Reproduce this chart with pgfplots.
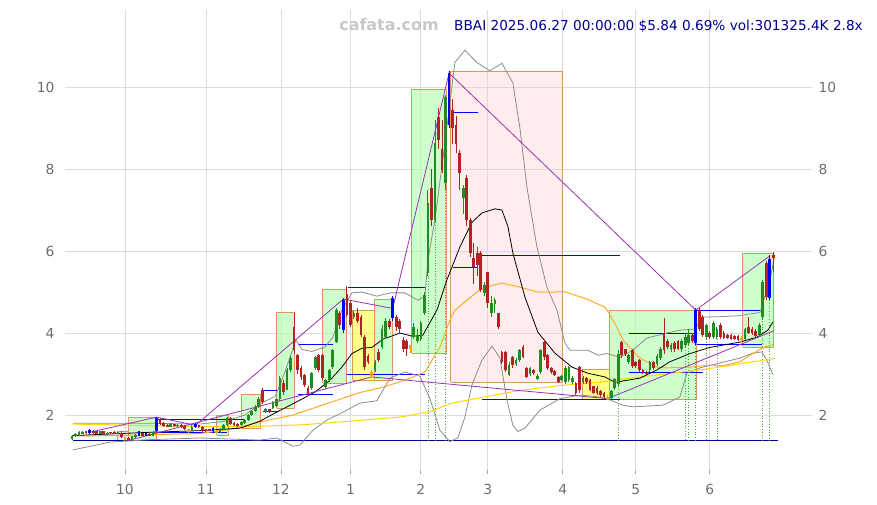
\documentclass[border=0pt]{standalone}
\usepackage{fontspec}
\setmainfont{DejaVu Sans}
\usepackage{pgfplots}
\usepackage{pgfplotstable}
\pgfplotsset{compat=1.18}
\definecolor{cgreen}{RGB}{34,139,34}
\definecolor{cred}{RGB}{178,34,34}
\definecolor{cblue}{RGB}{0,0,255}
\definecolor{corange}{RGB}{255,165,0}
\definecolor{boxedge}{RGB}{222,150,90}
\definecolor{boxgreen}{RGB}{170,255,170}
\definecolor{boxyellow}{RGB}{255,255,40}
\definecolor{boxpink}{RGB}{255,200,200}
\definecolor{mapurple}{RGB}{155,48,180}
\definecolor{navyl}{RGB}{0,0,150}
\definecolor{maorange}{RGB}{255,170,40}
\definecolor{mayellow}{RGB}{255,215,0}
\definecolor{bbgray}{RGB}{140,140,140}
\definecolor{gridgray}{RGB}{220,220,220}
\definecolor{ticklab}{RGB}{110,110,110}
\definecolor{dotgreen}{RGB}{60,170,60}
\definecolor{headnavy}{RGB}{0,0,140}
\definecolor{wmark}{RGB}{200,200,200}

% k: 1 up, 2 down, 3 blue, 4 orange
\pgfplotstableread{
i o h l c k
0 1.42 1.52 1.40 1.50 1
1 1.48 1.57 1.46 1.55 1
2 1.52 1.60 1.50 1.58 1
3 1.55 1.60 1.53 1.58 1
4 1.60 1.62 1.54 1.56 2
5 1.56 1.66 1.55 1.64 3
6 1.62 1.64 1.55 1.56 2
7 1.60 1.62 1.54 1.55 2
8 1.55 1.61 1.54 1.60 1
9 1.60 1.61 1.52 1.53 2
10 1.54 1.58 1.52 1.57 1
11 1.58 1.59 1.55 1.56 2
12 1.58 1.60 1.53 1.55 2
13 1.55 1.58 1.54 1.57 1
14 1.57 1.60 1.44 1.46 2
15 1.46 1.47 1.37 1.40 4
16 1.45 1.46 1.38 1.39 2
17 1.40 1.50 1.39 1.48 1
18 1.46 1.53 1.45 1.52 1
19 1.50 1.61 1.49 1.60 3
20 1.56 1.57 1.49 1.50 2
21 1.50 1.57 1.49 1.56 3
22 1.55 1.56 1.48 1.50 2
23 1.50 1.60 1.49 1.58 1
24 1.60 1.95 1.58 1.93 3
25 1.90 1.92 1.76 1.78 2
26 1.80 1.82 1.72 1.74 2
27 1.76 1.78 1.70 1.72 2
28 1.72 1.80 1.71 1.78 1
29 1.76 1.77 1.72 1.74 2
30 1.73 1.77 1.72 1.76 1
31 1.76 1.78 1.68 1.72 2
32 1.74 1.75 1.64 1.66 2
33 1.65 1.66 1.57 1.60 4
34 1.62 1.75 1.60 1.72 1
35 1.70 1.80 1.68 1.78 3
36 1.75 1.76 1.68 1.70 2
37 1.72 1.74 1.58 1.62 2
38 1.65 1.66 1.58 1.60 2
39 1.64 1.66 1.60 1.62 2
40 1.60 1.70 1.58 1.68 3
41 1.62 1.63 1.55 1.56 4
42 1.58 1.68 1.57 1.66 1
43 1.66 1.78 1.64 1.75 1
44 1.76 1.96 1.74 1.94 1
45 1.94 1.96 1.76 1.78 2
46 1.80 1.82 1.74 1.76 2
47 1.78 1.80 1.72 1.74 2
48 1.76 1.84 1.74 1.82 1
49 1.80 1.90 1.78 1.88 1
50 1.88 2.02 1.86 2.00 1
51 2.00 2.12 1.98 2.10 1
52 2.10 2.24 2.08 2.20 1
53 2.20 2.44 2.18 2.40 1
54 2.62 2.66 2.28 2.32 2
55 2.08 2.18 2.05 2.16 1
56 2.14 2.16 2.05 2.08 2
57 2.17 2.34 2.15 2.32 1
58 2.22 2.42 2.20 2.40 1
59 2.40 2.95 2.35 2.90 1
60 2.78 2.85 2.50 2.56 2
61 2.62 3.15 2.60 3.10 1
62 3.10 3.45 3.05 3.40 1
63 4.15 4.48 3.50 3.58 2
64 3.46 3.50 3.00 3.10 2
65 3.15 3.20 2.85 2.93 2
66 2.98 3.00 2.68 2.73 2
67 2.66 2.70 2.46 2.54 2
68 2.66 3.05 2.60 3.02 1
69 3.15 3.45 3.10 3.41 1
70 3.46 3.50 3.05 3.10 2
71 3.46 3.50 2.85 2.90 2
72 2.68 2.88 2.64 2.85 1
73 2.85 3.12 2.80 3.10 1
74 3.17 3.60 3.12 3.58 1
75 3.78 4.60 3.75 4.56 1
76 4.50 4.55 4.10 4.20 2
77 4.07 4.85 4.00 4.80 3
78 4.95 5.15 4.40 4.45 2
79 4.73 4.80 4.15 4.20 2
80 4.40 4.55 4.35 4.50 1
81 4.50 4.60 4.25 4.30 2
82 4.40 4.45 3.90 3.95 2
83 3.90 3.95 3.10 3.17 2
84 3.45 3.50 3.25 3.30 2
85 3.05 3.10 2.90 2.95 4
86 3.10 3.35 3.05 3.30 1
87 3.55 3.60 3.30 3.35 2
88 3.66 4.20 3.60 4.10 1
89 3.90 4.37 3.85 4.30 1
90 4.30 4.35 4.10 4.15 2
91 4.37 4.90 4.30 4.85 3
92 4.40 4.45 4.05 4.15 2
93 4.30 4.35 4.00 4.10 2
94 3.83 3.90 3.55 3.60 2
95 3.80 3.85 3.45 3.62 2
96 3.70 3.72 3.52 3.60 4
97 3.90 4.25 3.85 4.15 1
98 3.80 4.10 3.75 3.95 1
99 3.85 4.30 3.80 4.24 1
100 4.50 5.00 4.45 4.93 1
101 5.46 7.50 5.40 7.17 1
102 7.54 8.00 6.60 6.76 2
103 6.76 9.20 6.70 8.63 1
104 9.27 9.50 8.50 8.70 2
105 8.50 9.20 7.90 7.98 2
106 7.66 9.80 7.50 9.76 1
107 9.07 10.38 9.00 10.34 3
108 9.44 9.70 8.60 9.00 2
109 9.07 9.30 8.40 8.60 2
110 8.40 8.46 7.50 7.90 2
111 7.30 7.60 6.90 7.54 1
112 7.78 7.85 6.60 6.76 2
113 6.76 6.80 5.85 5.95 2
114 5.83 6.20 5.20 5.60 2
115 5.95 6.10 5.40 5.66 2
116 5.95 6.00 5.00 5.05 2
117 4.97 5.25 4.90 5.17 1
118 5.49 5.50 4.60 4.73 2
119 4.49 4.90 4.40 4.73 1
120 4.70 4.85 4.50 4.80 1
121 4.49 4.50 4.10 4.15 2
122 3.54 3.56 3.25 3.30 2
123 3.54 3.56 3.05 3.10 2
124 2.98 3.30 2.95 3.22 1
125 3.41 3.45 3.15 3.22 2
126 3.25 3.40 3.20 3.35 1
127 3.34 3.60 3.30 3.58 1
128 3.66 3.70 3.38 3.41 2
129 3.15 3.17 2.90 2.93 2
130 3.00 3.18 2.95 3.15 1
131 3.10 3.12 2.98 3.02 2
132 2.88 3.00 2.85 2.95 1
133 3.05 3.60 3.00 3.58 1
134 3.78 3.83 3.35 3.41 2
135 3.46 3.50 3.10 3.15 2
136 3.15 3.18 3.00 3.05 2
137 3.08 3.10 2.95 2.98 2
138 2.93 2.95 2.78 2.80 2
139 2.85 2.98 2.82 2.95 1
140 2.80 3.20 2.75 3.15 1
141 2.85 3.20 2.80 3.17 1
142 2.80 2.95 2.75 2.90 1
143 2.78 2.80 2.50 2.54 2
144 3.17 3.20 2.55 2.60 2
145 2.80 2.95 2.75 2.90 1
146 2.90 2.92 2.75 2.80 2
147 2.85 2.88 2.58 2.60 2
148 2.70 2.72 2.52 2.55 2
149 2.65 2.70 2.50 2.55 2
150 2.58 2.60 2.45 2.50 2
151 2.55 2.57 2.42 2.45 2
152 2.45 2.48 2.36 2.40 4
153 2.42 2.60 2.38 2.58 1
154 2.66 2.90 2.62 2.88 1
155 2.75 3.58 2.70 3.50 1
156 3.78 3.80 3.40 3.46 2
157 3.60 3.62 3.45 3.50 2
158 3.30 3.50 3.25 3.46 1
159 3.58 3.60 3.15 3.20 2
160 3.30 3.32 3.15 3.20 2
161 3.34 3.36 3.05 3.10 2
162 3.10 3.12 3.00 3.05 2
163 3.05 3.07 2.97 3.00 2
164 3.10 3.32 3.05 3.30 1
165 3.30 3.32 3.10 3.15 2
166 3.25 3.48 3.20 3.45 1
167 3.40 3.65 3.35 3.60 1
168 4.00 4.37 3.50 3.58 2
169 3.80 3.85 3.60 3.65 2
170 3.60 3.75 3.55 3.70 1
171 3.75 3.80 3.55 3.60 2
172 3.80 3.82 3.58 3.62 2
173 3.60 3.85 3.55 3.80 1
174 3.70 4.00 3.65 3.90 1
175 3.75 4.10 3.70 3.95 1
176 3.95 4.00 3.75 3.80 2
177 3.75 4.60 3.70 4.56 3
178 4.56 4.60 4.05 4.10 2
179 4.40 4.45 3.90 3.95 2
180 3.90 4.22 3.85 4.20 1
181 4.00 4.05 3.85 3.90 2
182 3.90 4.30 3.85 4.25 1
183 3.90 4.15 3.85 4.10 1
184 4.20 4.25 3.85 3.90 2
185 4.00 4.05 3.85 3.88 2
186 3.95 3.97 3.85 3.88 2
187 3.95 3.97 3.83 3.86 2
188 3.94 3.96 3.82 3.86 2
189 3.92 3.95 3.80 3.84 2
190 3.88 3.92 3.78 3.82 4
191 3.85 4.12 3.82 4.10 1
192 4.15 4.40 3.98 4.00 2
193 4.10 4.15 3.95 4.00 2
194 4.05 4.10 3.88 3.92 2
195 3.95 4.25 3.90 4.20 1
196 4.40 5.30 4.35 5.24 1
197 5.70 5.75 4.80 4.88 2
198 4.85 5.90 4.80 5.80 3
199 5.90 5.98 5.50 5.84 2
}\candles

\pgfplotsset{
  base/.style={at={(65bp,-470bp)}, anchor=south west, scale only axis,
    width=747bp, height=460bp, xmin=-2, xmax=210, ymin=0.66, ymax=11.88,
    axis line style={draw=none}, ytick={2,4,6,8,10},
    /pgf/number format/assume math mode=true,
    ticklabel style={font=\fontsize{13.9}{16}\selectfont, text=ticklab},
    y tick style={draw=none}},
  wick/.style={draw=none, mark=none, forget plot,
    error bars/.cd, y dir=plus, y explicit, error mark=none,
    error bar style={line width=0.9bp, draw=#1, solid}},
  body/.style={draw=none, mark=none, forget plot,
    error bars/.cd, y dir=plus, y explicit, error mark=none,
    error bar style={line width=2.7bp, draw=#1, solid}},
  gbox/.style={fill=boxgreen, fill opacity=0.6, draw=boxedge, line width=1bp},
  ybox/.style={fill=boxyellow, fill opacity=0.55, draw=boxedge, line width=1bp},
  pbox/.style={fill=boxpink, fill opacity=0.33, draw=boxedge, line width=1bp},
  sr/.style={cblue, line width=0.9bp},
  vdot/.style={dotgreen, dotted, line width=0.7bp},
}

\newcommand{\candleset}[2]{%
  \addplot[wick=#2] table[x=i, y expr={\thisrow{k}==#1 ? \thisrow{l} : nan},
     y error plus expr={\thisrow{h}-\thisrow{l}}] {\candles};
  \addplot[body=#2] table[x=i, y expr={\thisrow{k}==#1 ? min(\thisrow{o},\thisrow{c}) : nan},
     y error plus expr={max(abs(\thisrow{c}-\thisrow{o}),0.03)}] {\candles};
}

\begin{document}
\begin{tikzpicture}
\useasboundingbox (0,0) rectangle (877bp,-505bp);
\begin{axis}[base,
  xtick={15,38,59.3,79,99,118,139.3,160,181},
  xticklabels={10,11,12,1,2,3,4,5,6},
  xtick pos=left, ytick pos=left,
  grid=major, grid style={gridgray, line width=0.8bp},
  tick align=outside, major tick length=4bp,
  x tick style={draw=ticklab!60, line width=0.8bp},
  xticklabel style={yshift=-7bp},
  yticklabel style={xshift=-3bp},
]
% boxes
\addplot[pbox] coordinates {(13.0,1.37) (16.15,1.37) (16.15,1.59) (13.0,1.59) (13.0,1.37)};
\addplot[gbox] coordinates {(16.15,1.37) (24.1,1.37) (24.1,1.95) (16.15,1.95) (16.15,1.37)};
\addplot[gbox] coordinates {(41.0,1.51) (44.3,1.51) (44.3,1.98) (41.0,1.98) (41.0,1.51)};
\addplot[gbox] coordinates {(48.2,1.68) (53.6,1.68) (53.6,2.51) (48.2,2.51) (48.2,1.68)};
\addplot[gbox] coordinates {(58.1,2.17) (63.2,2.17) (63.2,4.49) (58.1,4.49) (58.1,2.17)};
\addplot[gbox] coordinates {(71.2,2.78) (78.0,2.78) (78.0,5.07) (71.2,5.07) (71.2,2.78)};
\addplot[ybox] coordinates {(79.7,2.85) (85.7,2.85) (85.7,4.56) (79.7,4.56) (79.7,2.85)};
\addplot[gbox] coordinates {(85.7,2.85) (91.0,2.85) (91.0,4.83) (85.7,4.83) (85.7,2.85)};
\addplot[gbox] coordinates {(96.4,3.51) (106.4,3.51) (106.4,9.93) (96.4,9.93) (96.4,3.51)};
\addplot[pbox] coordinates {(107.5,2.8) (139.3,2.8) (139.3,10.37) (107.5,10.37) (107.5,2.8)};
\addplot[ybox] coordinates {(145.0,2.37) (152.4,2.37) (152.4,3.12) (145.0,3.12) (145.0,2.37)};
\addplot[gbox] coordinates {(152.4,2.37) (177.3,2.37) (177.3,4.54) (152.4,4.54) (152.4,2.37)};
\addplot[gbox] coordinates {(190.4,3.66) (199.2,3.66) (199.2,5.95) (190.4,5.95) (190.4,3.66)};
% long bottom line
\addplot[navyl, line width=1.1bp] coordinates {(0.26,1.37) (200.3,1.37)};
% dotted verticals
\addplot[vdot] coordinates {(101,5.40) (101,1.37)};
\addplot[vdot] coordinates {(103,6.70) (103,1.37)};
\addplot[vdot] coordinates {(106,7.50) (106,1.37)};
\addplot[vdot] coordinates {(155,2.70) (155,1.37)};
\addplot[vdot] coordinates {(174,3.65) (174,1.37)};
\addplot[vdot] coordinates {(175,3.70) (175,1.37)};
\addplot[vdot] coordinates {(177,3.70) (177,1.37)};
\addplot[vdot] coordinates {(180,3.85) (180,1.37)};
\addplot[vdot] coordinates {(183,3.85) (183,1.37)};
\addplot[vdot] coordinates {(196,4.35) (196,1.37)};
\addplot[vdot] coordinates {(198,4.80) (198,1.37)};
% support / resistance
\addplot[sr] coordinates {(24.1,1.90) (49.0,1.90)};
\addplot[sr] coordinates {(24.1,1.58) (44.0,1.58)};
\addplot[sr] coordinates {(54.2,2.61) (58.4,2.61)};
\addplot[sr] coordinates {(54.2,2.10) (58.4,2.10)};
\addplot[sr] coordinates {(64.1,3.73) (74.0,3.73)};
\addplot[sr] coordinates {(64.1,2.51) (74.0,2.51)};
\addplot[sr] coordinates {(78.3,5.12) (100.1,5.12)};
\addplot[sr] coordinates {(78.0,2.98) (100.1,2.98)};
\addplot[sr] coordinates {(107.8,9.39) (115.2,9.39)};
\addplot[sr] coordinates {(108.1,5.60) (115.2,5.60)};
\addplot[sr] coordinates {(115.8,5.90) (155.5,5.90)};
\addplot[sr] coordinates {(116.3,2.39) (155.5,2.39)};
\addplot[sr] coordinates {(158.1,4.00) (177.3,4.00)};
\addplot[sr] coordinates {(158.1,3.05) (179.0,3.05)};
\addplot[sr] coordinates {(177.3,4.54) (195.8,4.54)};
\addplot[sr] coordinates {(177.3,3.73) (195.8,3.73)};
% bollinger bands
\addplot[bbgray, line width=0.8bp] coordinates {(0.26,1.8) (22.1,1.8) (36.29,1.78) (43.39,1.85) (49.07,2.0) (53.89,2.3) (57.58,2.45) (59.56,2.85) (61.83,3.4) (63.54,3.83) (65.24,3.6) (68.08,3.55) (71.77,3.66) (74.04,3.9) (76.59,4.56) (79.43,4.98) (82.27,5.0) (86.52,4.9) (90.21,4.98) (94.47,4.98) (98.16,4.8) (100.14,4.9) (100.99,5.78) (102.98,6.76) (105.82,8.63) (108.66,10.6) (111.49,10.9) (114.90,10.6) (118.59,10.4) (122.0,10.58) (125.11,10.1) (127.10,9.0) (129.09,7.56) (131.93,6.1) (134.77,5.12) (137.60,4.56) (139.87,3.76) (141.29,3.58) (146.40,3.58) (149.24,3.46) (151.79,3.5) (155.48,3.41) (159.17,3.58) (163.14,3.88) (168.81,4.0) (172.50,4.07) (176.76,4.1) (179.03,4.39) (183.86,4.4) (188.68,4.42) (195.21,4.5) (198.05,5.3) (199.46,5.9)};
\addplot[bbgray, line width=0.8bp] coordinates {(0.26,1.15) (10.75,1.34) (22.1,1.4) (36.29,1.44) (53.32,1.39) (58.14,1.44) (62.68,1.24) (64.67,1.27) (68.36,1.63) (72.33,1.88) (76.88,2.07) (81.70,2.29) (86.52,2.35) (90.21,2.9) (94.47,3.05) (98.72,2.95) (101.56,2.4) (104.40,1.63) (107.24,1.35) (109.51,1.45) (111.49,1.95) (113.48,2.73) (116.32,3.34) (119.16,3.68) (121.43,3.4) (123.41,2.37) (125.11,1.75) (126.53,1.6) (128.52,1.68) (132.78,2.12) (138.46,2.4) (144.13,2.49) (149.80,2.44) (152.64,2.37) (156.33,2.24) (159.17,2.2) (167.68,2.24) (172.50,2.44) (174.48,3.02) (178.18,3.15) (184.71,3.29) (189.53,3.39) (193.22,3.51) (195.78,3.54) (197.20,3.34) (198.90,2.98)};
% moving averages
\addplot[mayellow, line width=1bp] coordinates {(0.26,1.78) (12.74,1.76) (22.1,1.74) (36.29,1.72) (50.48,1.72) (64.67,1.76) (78.86,1.85) (93.05,1.95) (101.56,2.08) (107.24,2.28) (115.75,2.42) (127.10,2.6) (138.46,2.72) (149.80,2.8) (161.15,2.93) (178.18,3.1) (189.53,3.25) (199.46,3.38)};
\addplot[maorange, line width=1bp] coordinates {(0.26,1.49) (12.74,1.5) (36.29,1.55) (44.81,1.65) (53.32,1.83) (62.68,2.0) (72.33,2.28) (81.70,2.55) (88.22,2.68) (94.47,2.85) (100.14,3.05) (104.40,3.66) (107.24,4.32) (108.66,4.56) (113.48,4.9) (115.75,5.05) (120.01,5.18) (122.0,5.22) (127.10,5.12) (132.21,5.0) (137.04,5.0) (139.31,5.02) (146.40,4.82) (151.22,4.63) (152.64,4.45) (154.06,4.24) (156.33,3.83) (161.15,3.39) (165.98,3.17) (168.81,3.15) (175.34,3.17) (181.02,3.22) (184.71,3.2) (189.53,3.3) (193.22,3.5) (196.2,3.65) (198.90,3.72)};
\addplot[black, line width=0.8bp] coordinates {(0.26,1.5) (22.1,1.58) (36.29,1.62) (47.65,1.68) (53.32,1.85) (57.58,2.05) (63.25,2.3) (68.93,2.56) (73.19,2.85) (76.59,3.17) (79.43,3.5) (82.27,3.63) (85.10,3.65) (88.22,3.85) (93.05,4.0) (96.74,3.92) (99.57,3.95) (103.55,4.56) (106.39,5.3) (110.07,6.1) (113.48,6.7) (116.32,6.93) (120.01,7.03) (122.0,7.0) (123.70,6.6) (125.11,5.95) (128.52,4.88) (132.21,4.02) (137.04,3.51) (141.86,3.17) (146.40,3.02) (151.22,2.93) (154.06,2.8) (161.15,2.9) (165.98,3.1) (169.66,3.3) (175.34,3.5) (181.02,3.65) (189.53,3.78) (194.36,3.9) (197.48,4.07) (198.90,4.27)};
% zigzag
\addplot[mapurple, line width=0.8bp] coordinates {(5,1.58) (24,1.95) (35,1.75) (77,4.83) (91,4.6) (107,10.34) (177,4.56) (198,5.88)};
\addplot[mapurple, line width=0.8bp] coordinates {(15.5,1.37) (85,2.93) (152,2.4) (199,4.05)};
% candles
\candleset{1}{cgreen}
\candleset{2}{cred}
\candleset{3}{cblue}
\candleset{4}{corange}
\end{axis}
\begin{axis}[base, xtick=\empty, yticklabel pos=right,
  yticklabel style={xshift=3bp}]
\addplot[draw=none] coordinates {(0,2)};
\end{axis}
\node[text=wmark, font=\fontsize{16}{18}\selectfont\bfseries] at (389bp,-25bp) {cafata.com};
\node[text=headnavy, anchor=west, inner sep=0pt, font=\fontsize{13.7}{16}\selectfont] at (454bp,-26bp) {BBAI 2025.06.27 00:00:00 \$5.84 0.69\% vol:301325.4K 2.8x};
\end{tikzpicture}
\end{document}
